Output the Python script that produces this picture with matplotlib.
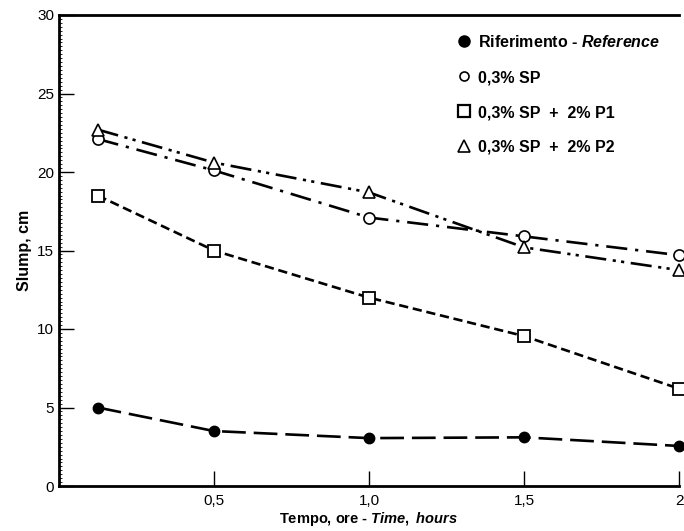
import matplotlib
matplotlib.use('Agg')
import matplotlib.pyplot as plt
from matplotlib.lines import Line2D
from matplotlib.ticker import MultipleLocator

plt.rcParams['font.family'] = ['Liberation Sans', 'DejaVu Sans']
plt.rcParams['mathtext.fontset'] = 'custom'
plt.rcParams['mathtext.it'] = 'Liberation Sans:italic:bold'
plt.rcParams['mathtext.rm'] = 'Liberation Sans:bold'

# dati
tempo = [0.125, 0.5, 1.0, 1.5, 2.0]
riferimento = [5.0, 3.5, 3.05, 3.1, 2.55]
sp = [22.1, 20.1, 17.1, 15.9, 14.7]
sp_p1 = [18.5, 15.0, 12.0, 9.55, 6.2]
sp_p2 = [22.7, 20.6, 18.7, 15.2, 13.75]

etichette = ['Riferimento - $\\it{Reference}$', '0,3% SP', '0,3% SP  +  2% P1', '0,3% SP  +  2% P2']
x_ticks = [0.5, 1.0, 1.5, 2.0]
x_labels = ['0,5', '1,0', '1,5', '2']
y_ticks = [0, 5, 10, 15, 20, 25, 30]

fig = plt.figure(figsize=(6.84, 5.31), dpi=100)
ax = fig.add_axes([59 / 684, 45 / 531, 620 / 684, 471 / 531])

lw = 1.9
ax.plot(tempo, riferimento, color='black', lw=lw, dashes=(9, 3),
        marker='o', ms=7.5, mfc='black', mec='black', clip_on=False)
ax.plot(tempo, sp, color='black', lw=lw, dashes=(8, 3, 1.2, 3),
        marker='o', ms=8, mfc='white', mec='black', mew=1.2, clip_on=False)
ax.plot(tempo, sp_p1, color='black', lw=lw, dashes=(3.5, 1.8),
        marker='s', ms=9, mfc='white', mec='black', mew=1.3, clip_on=False)
ax.plot(tempo, sp_p2, color='black', lw=lw, dashes=(8, 2.5, 1.2, 2, 1.2, 2.5),
        marker='^', ms=9, mfc='white', mec='black', mew=1.2, clip_on=False)

ax.set_xlim(0, 2.0)
ax.set_ylim(0, 30)
ax.set_xticks(x_ticks)
ax.set_xticklabels(x_labels)
ax.set_yticks(y_ticks)
ax.yaxis.set_minor_locator(MultipleLocator(0.25))
ax.tick_params(axis='both', direction='in', length=11, width=1, labelsize=11)
ax.tick_params(axis='y', which='minor', direction='in', length=2, width=0.6)
ax.tick_params(axis='x', pad=6)

for s in ['left', 'bottom', 'top']:
    ax.spines[s].set_linewidth(2)
ax.spines['right'].set_visible(False)

ax.set_xlabel('Tempo, ore - $\\it{Time,\\ hours}$', fontsize=10.5, fontweight='bold', labelpad=1)
ax.set_ylabel('Slump, cm', fontsize=11.5, fontweight='bold', labelpad=4)

handles = [
    Line2D([], [], ls='none', marker='o', ms=8, mfc='black', mec='black'),
    Line2D([], [], ls='none', marker='o', ms=6.5, mfc='white', mec='black', mew=1.2),
    Line2D([], [], ls='none', marker='s', ms=8.5, mfc='white', mec='black', mew=1.6),
    Line2D([], [], ls='none', marker='^', ms=8.5, mfc='white', mec='black', mew=1.2),
]
leg = ax.legend(handles, etichette, loc='upper left', bbox_to_anchor=(0.62, 0.99),
                frameon=False, handlelength=0.8, handletextpad=0.45, labelspacing=1.25,
                prop={'weight': 'bold', 'size': 11.5})

fig.savefig('out.png', dpi=100)
